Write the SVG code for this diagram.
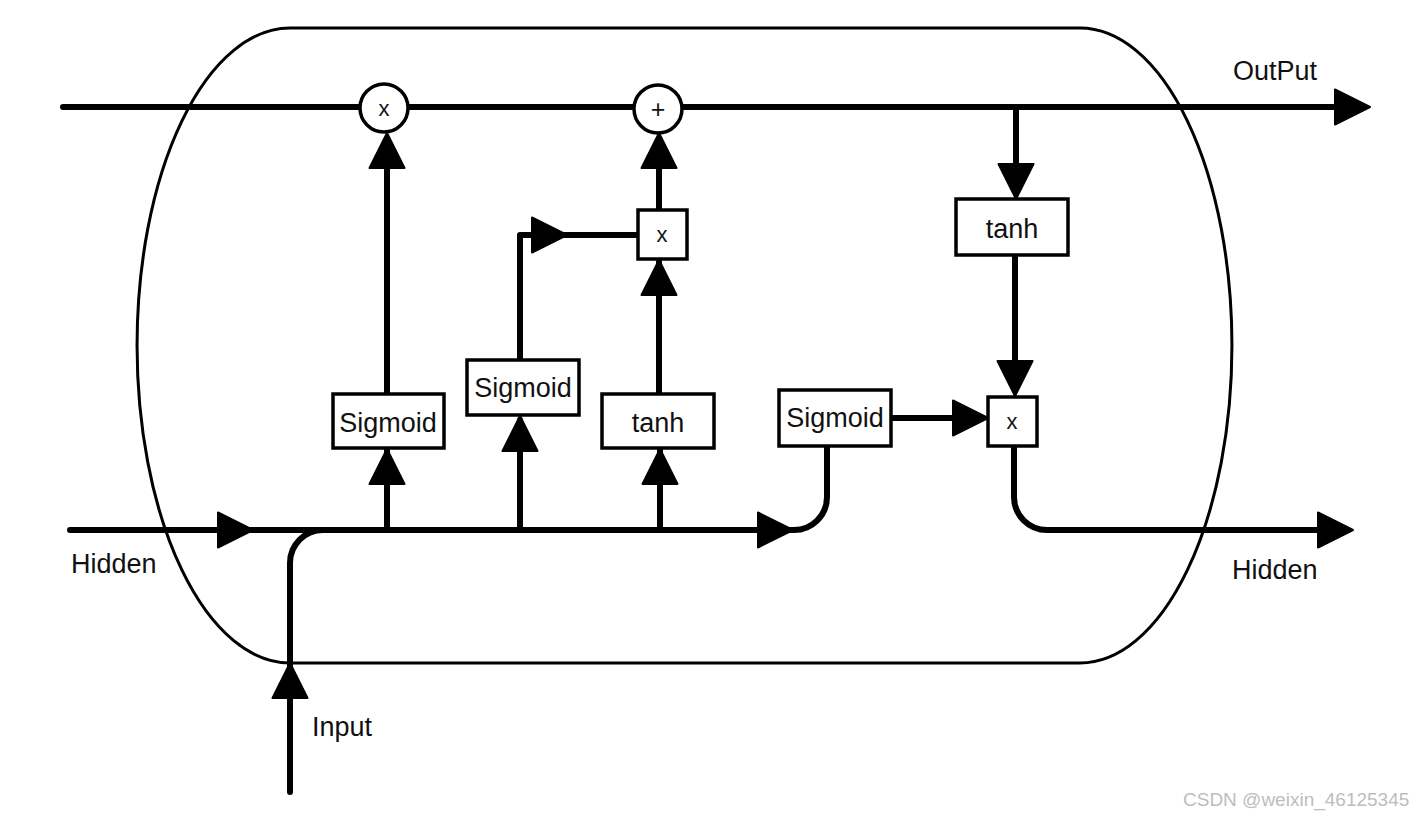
<svg xmlns="http://www.w3.org/2000/svg" width="1422" height="818" viewBox="0 0 1422 818">
<style>
.bg{fill:#fff}
.shell{fill:none;stroke:#000;stroke-width:3}
.wire{fill:none;stroke:#000;stroke-width:6;stroke-linecap:round;stroke-linejoin:round}
.box{fill:#fff;stroke:#000;stroke-width:3.5}
.op{fill:#fff;stroke:#000;stroke-width:3.5}
.ah{fill:#000;stroke:#000;stroke-width:2;stroke-linejoin:round}
.lbl{font-family:"Liberation Sans",Arial,Helvetica,sans-serif;font-size:27px;fill:#111}
.sym{font-family:"Liberation Sans",Arial,Helvetica,sans-serif;font-size:22px;fill:#111;text-anchor:middle}
.mid{text-anchor:middle}
.wm{font-family:"Liberation Sans",Arial,sans-serif;font-size:19px;fill:#bdbdbd}
</style>
<defs>
<path id="ah" d="M0,0 L-35,-17.5 L-35,17.5 Z"/>
</defs>
<rect class="bg" x="0" y="0" width="1422" height="818"/>
<g id="cell">
<path class="shell" d="M290,28 H1080 A152,317.5 0 0 1 1080,663 H290 A153,317.5 0 0 1 290,28 Z"/>
</g>
<g id="connectors">
<path class="wire" d="M63,107 H1340"/>
<path class="wire" d="M70,530 H794 A33,33 0 0 0 827,497 V446"/>
<path class="wire" d="M290,792 V563 A33,33 0 0 1 323,530 H340"/>
<path class="wire" d="M387,530 V448"/>
<path class="wire" d="M387,394 V140"/>
<path class="wire" d="M520,530 V420"/>
<path class="wire" d="M520,360 V235 H638"/>
<path class="wire" d="M660,530 V450"/>
<path class="wire" d="M659,394 V262"/>
<path class="wire" d="M659,210 V140"/>
<path class="wire" d="M891,418 H980"/>
<path class="wire" d="M1016,107 V192"/>
<path class="wire" d="M1015,256 V390"/>
<path class="wire" d="M1014,447 V497 A33,33 0 0 0 1047,530 H1330"/>
<g id="arrowheads" class="ah">
<use href="#ah" transform="translate(253,530)"/>
<use href="#ah" transform="translate(793,530)"/>
<use href="#ah" transform="translate(290,663) rotate(-90)"/>
<use href="#ah" transform="translate(387,133) rotate(-90)"/>
<use href="#ah" transform="translate(387,449) rotate(-90)"/>
<use href="#ah" transform="translate(520,416) rotate(-90)"/>
<use href="#ah" transform="translate(660,449) rotate(-90)"/>
<use href="#ah" transform="translate(567,235)"/>
<use href="#ah" transform="translate(659,260) rotate(-90)"/>
<use href="#ah" transform="translate(659,133) rotate(-90)"/>
<use href="#ah" transform="translate(1370,107)"/>
<use href="#ah" transform="translate(1016,199) rotate(90)"/>
<use href="#ah" transform="translate(1015,396) rotate(90)"/>
<use href="#ah" transform="translate(988,418)"/>
<use href="#ah" transform="translate(1353,530)"/>
</g>
</g>
<g id="forget-mul">
<circle class="op" cx="384" cy="108" r="24"/>
<text class="sym" x="384" y="116">x</text>
</g>
<g id="cell-add">
<circle class="op" cx="658" cy="109" r="24"/>
<text class="sym" x="658" y="118" style="font-size:25px">+</text>
</g>
<g id="forget-sigmoid">
<rect class="box" x="333" y="394" width="111" height="54"/>
<text class="lbl mid" x="388" y="432">Sigmoid</text>
</g>
<g id="input-sigmoid">
<rect class="box" x="467" y="360" width="112" height="55"/>
<text class="lbl mid" x="523" y="397">Sigmoid</text>
</g>
<g id="candidate-tanh">
<rect class="box" x="602" y="394" width="112" height="54"/>
<text class="lbl mid" x="658" y="432">tanh</text>
</g>
<g id="input-mul">
<rect class="box" x="638" y="210" width="49" height="49"/>
<text class="sym" x="662" y="242">x</text>
</g>
<g id="output-sigmoid">
<rect class="box" x="779" y="390" width="112" height="56"/>
<text class="lbl mid" x="835" y="427">Sigmoid</text>
</g>
<g id="output-tanh">
<rect class="box" x="956" y="199" width="112" height="56"/>
<text class="lbl mid" x="1012" y="238">tanh</text>
</g>
<g id="output-mul">
<rect class="box" x="988" y="397" width="49" height="49"/>
<text class="sym" x="1012" y="429">x</text>
</g>
<g id="labels">
<text class="lbl" x="1233" y="80">OutPut</text>
<text class="lbl" x="71" y="573">Hidden</text>
<text class="lbl" x="1232" y="579">Hidden</text>
<text class="lbl" x="312" y="736">Input</text>
<text class="wm" x="1183" y="806">CSDN @weixin_46125345</text>
</g>
</svg>
